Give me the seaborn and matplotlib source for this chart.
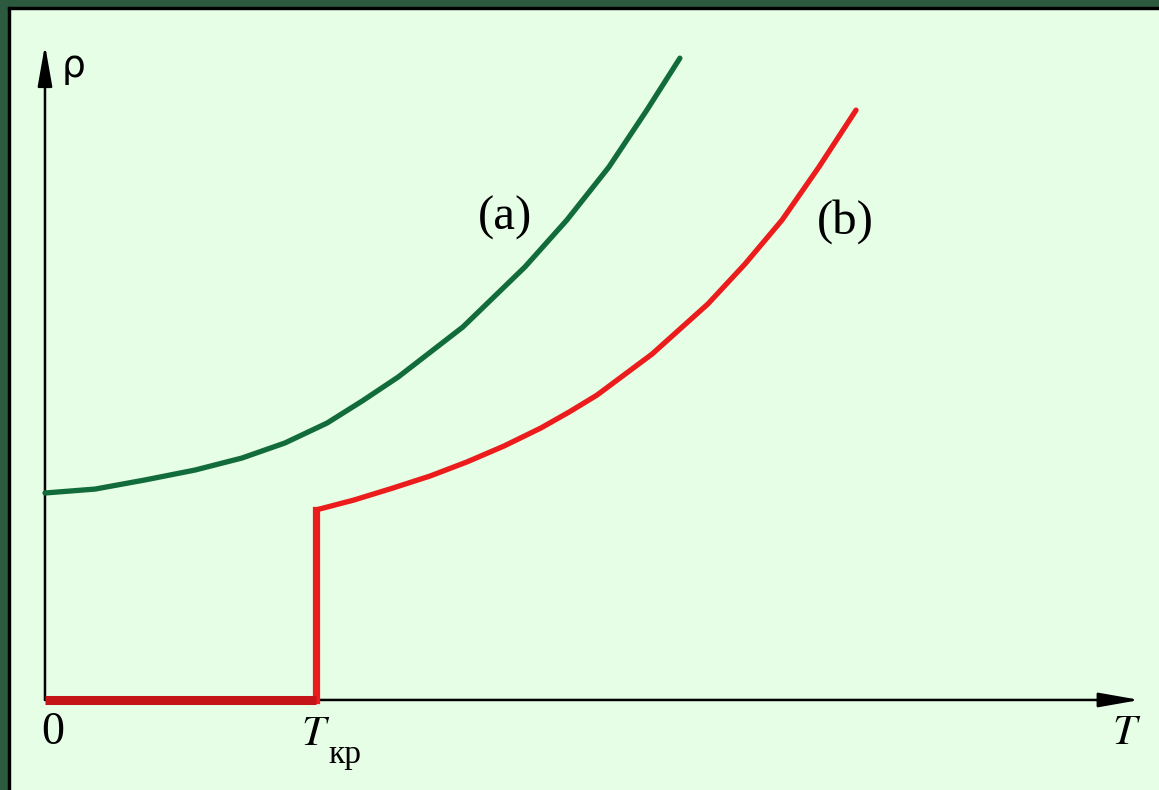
import numpy as np
import pandas as pd
import matplotlib
matplotlib.use('Agg')
import matplotlib.pyplot as plt
from matplotlib.patches import Rectangle
import seaborn as sns

# curve (a): normal metal, T in units of T_kr
T_a = [0.0, 0.185, 0.369, 0.554, 0.727, 0.886, 1.041, 1.170, 1.303, 1.542,
       1.771, 1.926, 2.081, 2.221, 2.343]
rho_a = [1.000, 1.019, 1.063, 1.111, 1.169, 1.242, 1.338, 1.444, 1.560, 1.802,
         2.092, 2.319, 2.575, 2.850, 3.101]

# curve (b): superconductor above T_kr
T_b = [1.0, 1.140, 1.284, 1.421, 1.557, 1.694, 1.830, 1.934, 2.037, 2.240,
       2.446, 2.583, 2.720, 2.856, 2.993]
rho_b = [0.918, 0.966, 1.024, 1.082, 1.150, 1.227, 1.314, 1.391, 1.473, 1.671,
         1.913, 2.106, 2.319, 2.575, 2.850]

# jump at T_kr and zero resistance below it
T_jump = [1.0, 1.0]
rho_jump = [0.0, 0.918]
T_sc = [0.0, 1.0]
rho_sc = [0.0, 0.0]

T_kr = 1.0

bg = '#e6fde6'
fig = plt.figure(figsize=(11.59, 7.90), dpi=100, facecolor=bg)
ax = fig.add_axes([0, 0, 1, 1])
ax.set_facecolor(bg)
ax.set_xlim(-0.166, 4.111)
ax.set_ylim(-0.435, 3.382)
ax.axis('off')

# axes with arrows
arrow = dict(arrowstyle='-|>,head_length=1.25,head_width=0.22', color='black',
             lw=1.8, mutation_scale=20, shrinkA=0, shrinkB=0)
ax.annotate('', xy=(4.04, 0), xytext=(0, 0), arrowprops=arrow)
ax.annotate('', xy=(0, 3.165), xytext=(0, 0), arrowprops=arrow)

df_a = pd.DataFrame({'T': T_a, 'rho': rho_a})
df_b = pd.DataFrame({'T': T_b, 'rho': rho_b})
df_jump = pd.DataFrame({'T': T_jump, 'rho': rho_jump})
df_sc = pd.DataFrame({'T': T_sc, 'rho': rho_sc})

sns.lineplot(data=df_a, x='T', y='rho', ax=ax, sort=False, estimator=None,
             color='#126b3a', linewidth=3.8, solid_capstyle='round', solid_joinstyle='round')
sns.lineplot(data=df_b, x='T', y='rho', ax=ax, sort=False, estimator=None,
             color='#ec1c1c', linewidth=3.8, solid_capstyle='round', solid_joinstyle='round')
sns.lineplot(data=df_jump, x='T', y='rho', ax=ax, sort=False, estimator=None,
             color='#ec1c1c', linewidth=5.2, solid_capstyle='projecting')
sns.lineplot(data=df_sc, x='T', y='rho', ax=ax, sort=False, estimator=None,
             color='#c41418', linewidth=6.5, solid_capstyle='butt')
for ln in ax.lines:
    ln.set_zorder(4)
ax.set_xlabel('')
ax.set_ylabel('')

# labels
ax.text(0.063, 3.06, 'ρ', fontsize=27, family='DejaVu Sans', va='center', ha='left')
ax.text(0.03, -0.16, '0', fontsize=33, family='Liberation Serif', va='center', ha='center')
ax.text(T_kr, -0.16, r'$T$', fontsize=31, va='center', ha='center',
        math_fontfamily='stix')
ax.text(T_kr + 0.045, -0.265, 'кр', fontsize=24, family='Liberation Serif', va='center', ha='left')
ax.text(3.99, -0.155, r'$T$', fontsize=31, va='center', ha='center', math_fontfamily='stix')
ax.text(1.697, 2.33, '(a)', fontsize=35, family='Liberation Serif', va='center', ha='center')
ax.text(2.952, 2.31, '(b)', fontsize=35, family='Liberation Serif', va='center', ha='center')

# frame: dark green strip on the left and top, thin black line inside
W, H = 1159, 790
fig.add_artist(Rectangle((0, 0), 8 / W, 1, transform=fig.transFigure, color='#2b5a3e', zorder=10))
fig.add_artist(Rectangle((0, 1 - 7 / H), 1, 7 / H, transform=fig.transFigure, color='#2b5a3e', zorder=10))
fig.add_artist(Rectangle((8 / W, 0), 2 / W, 1 - 7 / H, transform=fig.transFigure, color='black', zorder=10))
fig.add_artist(Rectangle((8 / W, 1 - 9 / H), 1, 2 / H, transform=fig.transFigure, color='black', zorder=10))

fig.savefig('out.png', dpi=100, facecolor=bg)
